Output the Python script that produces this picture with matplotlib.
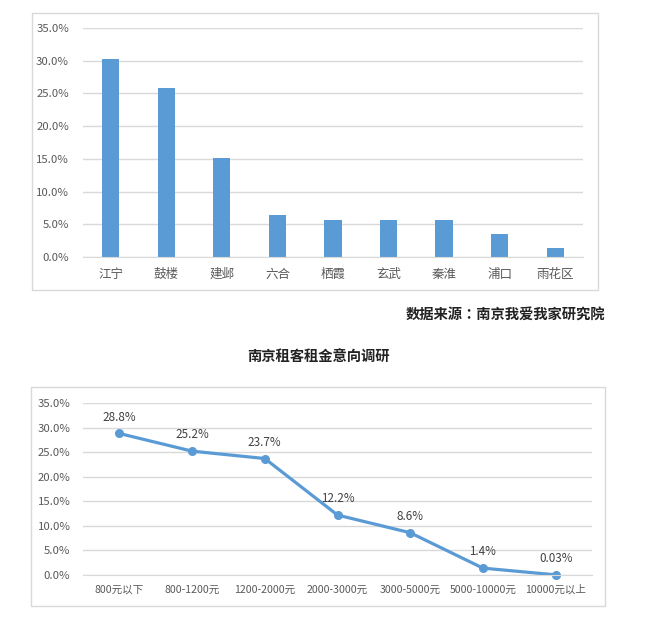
import matplotlib
matplotlib.use("Agg")
import matplotlib.pyplot as plt
from matplotlib.patches import Rectangle
from matplotlib.ticker import FuncFormatter, MultipleLocator

plt.rcParams['font.family'] = ['Noto Sans CJK SC', 'DejaVu Sans']

districts = ['江宁', '鼓楼', '建邺', '六合', '栖霞', '玄武', '秦淮', '浦口', '雨花区']
district_share = [30.2, 25.9, 15.1, 6.4, 5.7, 5.7, 5.7, 3.5, 1.3]

rent_ranges = ['800元以下', '800-1200元', '1200-2000元', '2000-3000元', '3000-5000元', '5000-10000元', '10000元以上']
rent_share = [28.8, 25.2, 23.7, 12.2, 8.6, 1.4, 0.03]
rent_labels = ['28.8%', '25.2%', '23.7%', '12.2%', '8.6%', '1.4%', '0.03%']

source_text = '数据来源：南京我爱我家研究院'
title_text = '南京租客租金意向调研'

BLUE = '#5B9BD5'
GRID = '#D9D9D9'
TXT = '#595959'

W, H = 650, 617
fig = plt.figure(figsize=(W / 100, H / 100), dpi=100)

def fx(px):
    return px / W

def fy(py):
    return 1 - py / H

# frames
fig.patches.append(Rectangle((fx(32), fy(290)), fx(598) - fx(32), fy(13) - fy(290),
                             transform=fig.transFigure, fill=False, edgecolor=GRID, lw=1))
fig.patches.append(Rectangle((fx(31), fy(606)), fx(605) - fx(31), fy(387) - fy(606),
                             transform=fig.transFigure, fill=False, edgecolor=GRID, lw=1))

pct = FuncFormatter(lambda v, p: f'{v:.1f}%')

def style(ax):
    ax.set_ylim(0, 35)
    ax.yaxis.set_major_locator(MultipleLocator(5))
    ax.yaxis.set_major_formatter(pct)
    ax.grid(axis='y', color=GRID, lw=1)
    ax.set_axisbelow(True)
    for s in ['top', 'right', 'left']:
        ax.spines[s].set_visible(False)
    ax.spines['bottom'].set_color(GRID)
    ax.tick_params(axis='both', length=0, colors=TXT)

# top bar chart
ax1 = fig.add_axes([fx(83), fy(257), fx(583) - fx(83), fy(28) - fy(257)])
x1 = range(len(districts))
ax1.bar(x1, district_share, width=0.31, color=BLUE)
ax1.set_xlim(-0.5, len(districts) - 0.5)
style(ax1)
ax1.set_xticks(list(x1))
ax1.set_xticklabels(districts, fontsize=9)
ax1.tick_params(axis='x', pad=8)
ax1.tick_params(axis='y', pad=10, labelsize=8.2)

fig.text(fx(605), fy(316), source_text, ha='right', va='center', fontsize=10.3,
         fontweight='bold', color='#222222', family=['Noto Sans CJK TC', 'DejaVu Sans'])
fig.text(fx(318), fy(358), title_text, ha='center', va='center', fontsize=10.3,
         fontweight='bold', color='#222222')

# bottom line chart
ax2 = fig.add_axes([fx(83), fy(575), fx(592) - fx(83), fy(403) - fy(575)])
x2 = list(range(len(rent_ranges)))
ax2.plot(x2, rent_share, color=BLUE, lw=2.3, marker='o', markersize=5.5, clip_on=False)
ax2.set_xlim(-0.5, len(rent_ranges) - 0.5)
style(ax2)
ax2.set_xticks(x2)
ax2.set_xticklabels(rent_ranges, fontsize=7.6)
ax2.tick_params(axis='x', pad=7)
ax2.tick_params(axis='y', pad=9, labelsize=8.2)
for xi, yi, lab in zip(x2, rent_share, rent_labels):
    ax2.annotate(lab, (xi, yi), xytext=(0, 7), textcoords='offset points',
                 ha='center', va='bottom', fontsize=8.4, color='#404040')

fig.savefig('out.png', dpi=100)
